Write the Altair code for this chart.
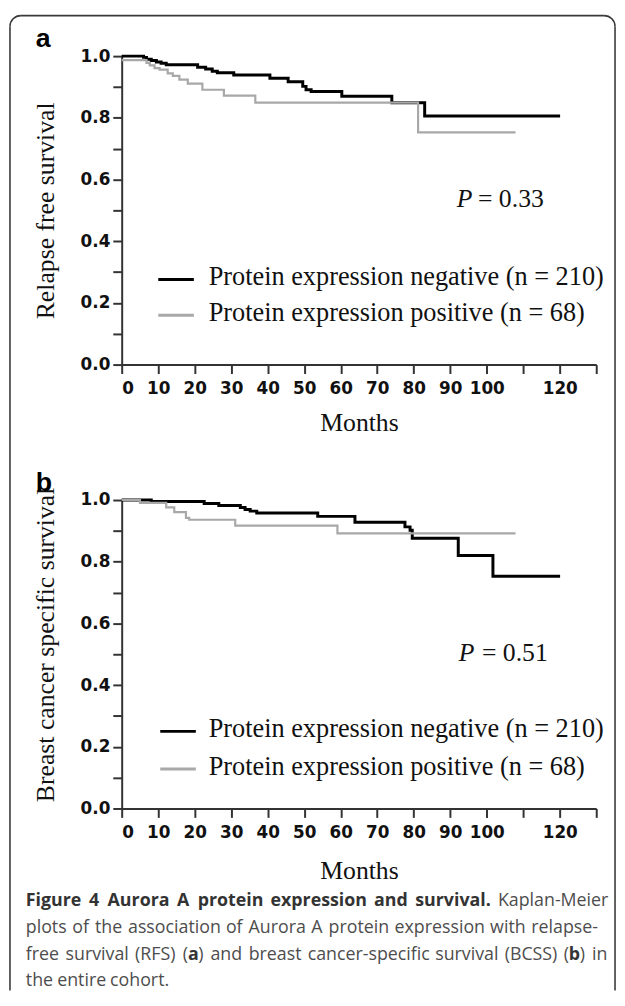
import altair as alt
import pandas as pd

# ---------------- data ----------------
GROUPS = ["Protein expression negative (n = 210)", "Protein expression positive (n = 68)"]
COLORS = ["#000000", "#a8a8a8"]

X_TICKS = [0, 10, 20, 30, 40, 50, 60, 70, 80, 90, 100, 110, 120, 130]
X_HIDDEN = [110, 130]
Y_TICKS = [0.0, 0.1, 0.2, 0.3, 0.4, 0.5, 0.6, 0.7, 0.8, 0.9, 1.0]

# (a) relapse free survival
rfs_neg_t = [0, 6.0, 6.8, 8.1, 9.5, 10.8, 12.2, 20.8, 23.0, 24.8, 26.2, 30.7, 40.6, 45.6,
             49.6, 50.5, 51.9, 60.3, 74.0, 83.0, 120.1]
rfs_neg_s = [1.0, 0.996, 0.990, 0.986, 0.981, 0.977, 0.972, 0.964, 0.958, 0.951, 0.946, 0.939,
             0.928, 0.917, 0.902, 0.891, 0.885, 0.870, 0.849, 0.806, 0.806]
rfs_pos_t = [0, 6.8, 7.7, 9.0, 10.4, 12.6, 14.0, 15.8, 18.1, 22.1, 28.0, 36.6, 81.2, 107.9]
rfs_pos_s = [0.987, 0.978, 0.970, 0.961, 0.956, 0.944, 0.936, 0.924, 0.911, 0.891, 0.872,
             0.849, 0.753, 0.753]

# (b) breast cancer specific survival
bcss_neg_t = [0, 8.1, 22.6, 26.6, 32.5, 33.8, 35.2, 37.0, 53.7, 63.9, 77.6, 79.0, 79.6,
              92.2, 101.7, 120.1]
bcss_neg_s = [1.0, 0.995, 0.989, 0.982, 0.976, 0.969, 0.964, 0.958, 0.947, 0.928, 0.913,
              0.902, 0.876, 0.820, 0.753, 0.753]
bcss_pos_t = [0, 5.0, 12.2, 14.4, 17.6, 18.5, 31.1, 59.1, 107.9]
bcss_pos_s = [1.0, 0.991, 0.976, 0.961, 0.942, 0.936, 0.917, 0.892, 0.892]

P_VALUES = ["= 0.33", "= 0.51"]
Y_TITLES = ["Relapse free survival", "Breast cancer specific survival"]
PANEL_LETTERS = ["a", "b"]

# caption runs: (text, bold)
CAPTION_LINES = [
    [("Figure 4 Aurora A protein expression and survival.", True), (" Kaplan-Meier", False)],
    [("plots of the association of Aurora A protein expression with relapse-", False)],
    [("free survival (RFS) (", False), ("a", True),
     (") and breast cancer-specific survival (BCSS) (", False), ("b", True), (") in", False)],
    [("the entire cohort.", False)],
]

# ---------------- styling ----------------
W, H = 480, 312
SERIF = "Liberation Serif"
SANS = "DejaVu Sans"
CAP = "Open Sans"
FC = "#3a3a3a"
CB, CR = "#333333", "#4d4d4d"
S = 18

# approximate advance widths (units of 1/2048 em) used only to lay out justified caption text
REG_W = {" ": 532, "a": 1139, "b": 1255, "c": 975, "d": 1255, "e": 1149, "f": 694,
         "g": 1122, "h": 1257, "i": 518, "l": 518, "n": 1257, "o": 1237, "p": 1255,
         "r": 836, "s": 977, "t": 723, "u": 1257, "v": 1026, "w": 1593, "x": 1073,
         "A": 1296, "B": 1327, "C": 1292, "F": 1120, "K": 1255, "M": 1853, "R": 1321,
         "S": 1126, "(": 596, ")": 596, "-": 659, ".": 545}
BOLD_W = {" ": 532, "a": 1176, "b": 1255, "d": 1255, "e": 1174, "g": 1118, "i": 594,
          "l": 594, "n": 1292, "o": 1235, "p": 1255, "r": 893, "s": 999, "t": 848,
          "u": 1292, "v": 1139, "x": 1149, "A": 1417, "F": 1133, "4": 1171, ".": 586}
CORR_REG, CORR_BOLD = 0.987, 1.018


def tw(s, bold):
    tbl = BOLD_W if bold else REG_W
    corr = CORR_BOLD if bold else CORR_REG
    return sum(tbl.get(c, 1150) for c in s) / 2048 * S * corr


def txt(t, x, y, font=SERIF, size=26, align="left", weight="normal", style="normal",
        color="#111111"):
    return alt.Chart(pd.DataFrame({"t": [t]})).mark_text(
        align=align, baseline="alphabetic", font=font, fontSize=size,
        fontWeight=weight, fontStyle=style, color=color,
    ).encode(x=alt.value(x), y=alt.value(y), text="t:N")


def words_of(runs):
    words = [[]]
    for text, bold in runs:
        parts = text.split(" ")
        for i, p in enumerate(parts):
            if i > 0:
                words.append([])
            if p:
                words[-1].append((p, bold))
    return [w for w in words if w]


def caption_line(runs, x0, x1, y, justify):
    words = words_of(runs)
    widths = [sum(tw(t, b) for t, b in w) for w in words]
    if justify and len(words) > 1:
        gap = (x1 - x0 - sum(widths)) / (len(words) - 1)
    else:
        gap = tw(" ", False)
    marks, x = [], x0
    for w, wd in zip(words, widths):
        xx = x
        for t, b in w:
            marks.append(txt(t, xx, y, font=CAP, size=S, weight="bold" if b else "normal",
                             color=CB if b else CR))
            xx += tw(t, b)
        x += wd + gap
    return marks


def legend_layers(lx, ys, text_x):
    out = []
    for g, c, yy in zip(GROUPS, COLORS, ys):
        out.append(alt.Chart(pd.DataFrame({"k": [0]})).mark_rule(color=c, strokeWidth=3).encode(
            x=alt.value(lx), x2=alt.value(lx + 36), y=alt.value(yy)))
        out.append(txt(g, text_x, yy + 6, size=26.6))
    return out


def km_layers(neg_t, neg_s, pos_t, pos_s, y_title, title_y, x_title_y):
    df = pd.DataFrame({
        "t": neg_t + pos_t,
        "s": neg_s + pos_s,
        "group": [GROUPS[0]] * len(neg_t) + [GROUPS[1]] * len(pos_t),
    })
    hidden = ",".join(str(v) for v in X_HIDDEN)
    x = alt.X("t:Q", scale=alt.Scale(domain=[0, 130], nice=False, zero=False),
              axis=alt.Axis(values=X_TICKS, title="Months",
                            labelExpr=f"indexof([{hidden}], datum.value) >= 0 ? '' : datum.label",
                            labelPadding=7, titleY=x_title_y, titleBaseline="alphabetic"))
    y = alt.Y("s:Q", scale=alt.Scale(domain=[0, 1], nice=False),
              axis=alt.Axis(values=Y_TICKS, format=".1f", title=y_title,
                            labelExpr="round(datum.value * 10) % 2 == 0 ? datum.label : ''",
                            labelPadding=3, titleX=-69, titleY=title_y,
                            titleBaseline="alphabetic"))
    color = alt.Color("group:N", scale=alt.Scale(domain=GROUPS, range=COLORS), legend=None)
    base = alt.Chart(df).encode(x=x, y=y, color=color)
    neg = base.transform_filter(alt.datum.group == GROUPS[0]).mark_line(
        interpolate="step-after", strokeWidth=3)
    pos = base.transform_filter(alt.datum.group == GROUPS[1]).mark_line(
        interpolate="step-after", strokeWidth=2.2)
    return [neg, pos]


one = pd.DataFrame({"k": [0]})
fl, ft, fr, fb, rad = -113, -41, 499, 945, 11
frame = [
    alt.Chart(one).mark_rule(color=FC, strokeWidth=1.6).encode(
        x=alt.value(fl), y=alt.value(ft + rad), y2=alt.value(fb)),
    alt.Chart(one).mark_rule(color=FC, strokeWidth=1.6).encode(
        x=alt.value(fr), y=alt.value(ft + rad), y2=alt.value(fb)),
    alt.Chart(one).mark_rule(color=FC, strokeWidth=1.6).encode(
        x=alt.value(fl + rad), x2=alt.value(fr - rad), y=alt.value(ft)),
    alt.Chart(one).mark_arc(color=FC, radius=rad + 0.8, radius2=rad - 0.8,
                            theta=4.712389, theta2=6.283185).encode(
        x=alt.value(fl + rad), y=alt.value(ft + rad)),
    alt.Chart(one).mark_arc(color=FC, radius=rad + 0.8, radius2=rad - 0.8,
                            theta=0, theta2=1.570796).encode(
        x=alt.value(fr - rad), y=alt.value(ft + rad)),
]

panel_a = alt.layer(
    *frame,
    *km_layers(rfs_neg_t, rfs_neg_s, rfs_pos_t, rfs_pos_s, Y_TITLES[0], 156, 67),
    *legend_layers(37, [226, 262], 88),
    txt(PANEL_LETTERS[0], -87, -9, font="Liberation Sans", size=27, weight="bold", color="#000000"),
    txt("P", 339, 153, style="italic"),
    txt(P_VALUES[0], 427, 153, align="right"),
).properties(width=W, height=H)

# caption (panel b coordinates; page x = 123 + rel)
cx, cr = -97, 491
cb = [411, 438, 465, 492]
right_edges = [cr, cr - 10, cr, None]
caption = []
for runs, yb, re in zip(CAPTION_LINES, cb, right_edges):
    caption += caption_line(runs, cx, re if re is not None else cr, yb, re is not None)

panel_b = alt.layer(
    *km_layers(bcss_neg_t, bcss_neg_s, bcss_pos_t, bcss_pos_s, Y_TITLES[1], 146, 71),
    *legend_layers(39, [234, 272], 88),
    txt(PANEL_LETTERS[1], -87, -9, font="Liberation Sans", size=27, weight="bold", color="#000000"),
    txt("P", 341, 163, style="italic"),
    txt(P_VALUES[1], 431, 163, align="right"),
    *caption,
).properties(width=W, height=H)

chart = alt.vconcat(panel_a, panel_b, spacing=137, bounds="flush").resolve_scale(
    color="independent"
).properties(
    padding={"left": 1, "top": 1, "right": 1, "bottom": 0}
).configure_view(stroke=None).configure_axis(
    domainColor="#333333", domainWidth=2, tickColor="#333333", tickWidth=2, tickSize=9,
    labelFont=SANS, labelFontSize=17, labelFontWeight="bold", labelColor="#111111",
    titleFont=SERIF, titleFontSize=26, titleFontWeight="normal", titleColor="#111111",
    grid=False,
)

chart.save("out.html", embed_options={"renderer": "svg", "actions": False})
